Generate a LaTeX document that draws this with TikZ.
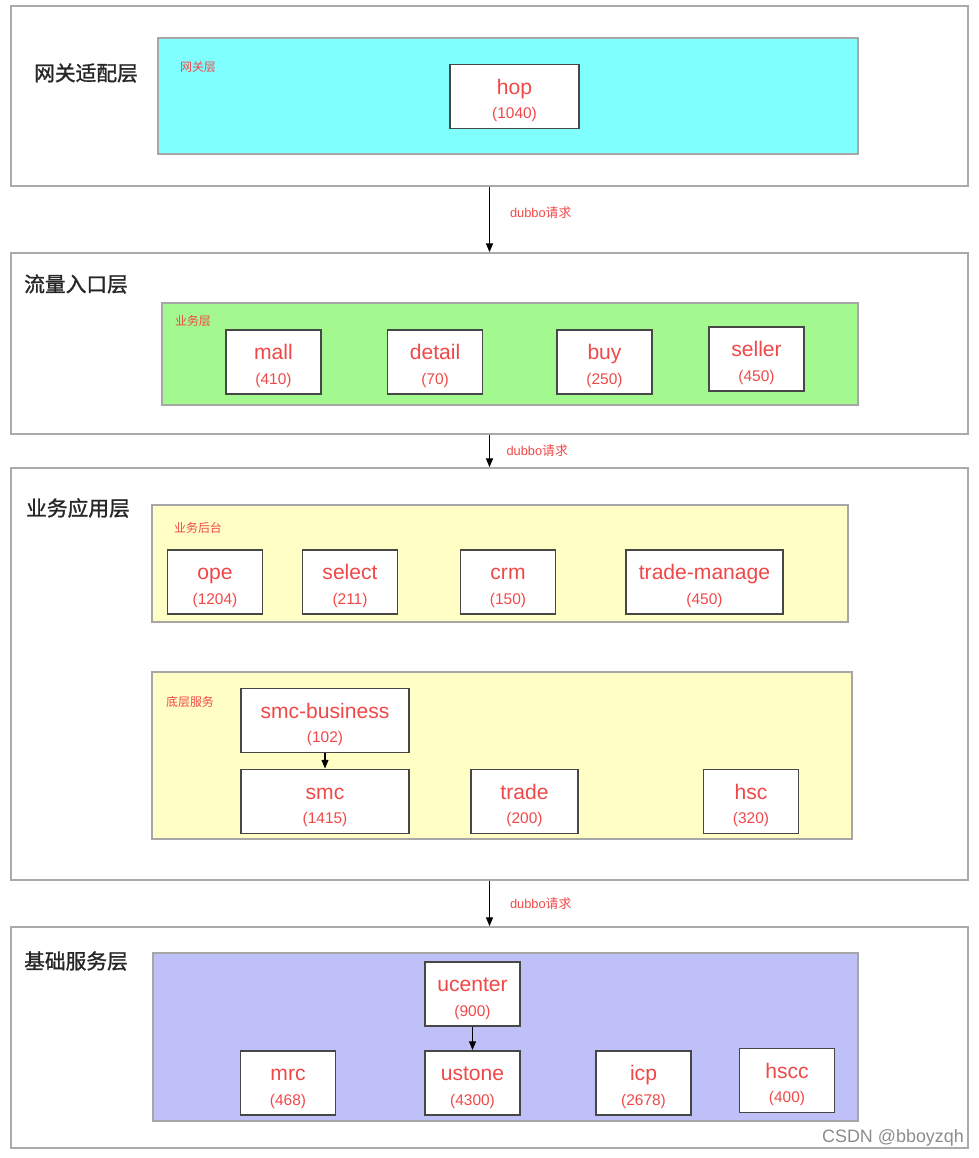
\documentclass[tikz,border=0pt]{standalone}
\usepackage{fontspec}
\setmainfont{Liberation Sans}
\newfontfamily\cjk{Noto Sans CJK SC}
\newfontfamily\cjktitle[FakeBold=1.2]{Noto Sans CJK SC}
\usetikzlibrary{arrows.meta}

\definecolor{svcred}{RGB}{240,72,72}
\definecolor{layergray}{RGB}{170,170,170}
\definecolor{gwcyan}{RGB}{128,255,255}
\definecolor{bizgreen}{RGB}{163,249,143}
\definecolor{appyellow}{RGB}{255,255,197}
\definecolor{basepurple}{RGB}{192,192,248}

\newcommand{\svctext}[2]{{\fontsize{12}{14}\selectfont\rule{0pt}{13pt}#1}\\[2pt]{\fontsize{8.8}{11}\selectfont (#2)}}

\tikzset{
  layer/.style={draw=layergray, line width=1pt, minimum width=19.14cm, inner sep=0},
  panel/.style={draw=black!35, line width=0.6pt},
  layertitle/.style={font=\cjktitle\fontsize{11.8}{13}\selectfont, text=black!85},
  paneltitle/.style={font=\cjk\fontsize{6.8}{8}\selectfont, text=svcred},
  svc/.style={draw=black!72, line width=1.1pt, fill=white, text=svcred, align=center,
    minimum width=1.9cm, minimum height=1.28cm, inner sep=0},
  req/.style={-{Triangle[length=5pt,width=4pt]}, line width=0.7pt},
  reqlabel/.style={font=\fontsize{7.3}{9}\selectfont, text=svcred}
}

\begin{document}
\begin{tikzpicture}[x=0.02cm, y=-0.02cm]

    \useasboundingbox (0,0) rectangle (978,1158);

    % Gateway layer
    \node[layer, minimum height=3.6cm] (gw) at (489.5,96) {};
    \node[layertitle] (gwtitle) at (86,73) {网关适配层};
    \draw[panel, fill=gwcyan] (158,38) rectangle (858,154);
    \node[paneltitle] (gwpanel) at (198,67) {网关层};
    \node[svc, minimum width=2.58cm] (hop) at (514.5,96.5) {\svctext{hop}{1040}};

    % Traffic entry layer
    \node[layer, minimum height=3.62cm] (entry) at (489.5,343.5) {};
    \node[layertitle] (entrytitle) at (76,284) {流量入口层};
    \draw[panel, fill=bizgreen] (162,303) rectangle (858,405);
    \node[paneltitle] (bizpanel) at (193,321) {业务层};
    \node[svc] (mall) at (273.5,362) {\svctext{mall}{410}};
    \node[svc] (detail) at (435,362) {\svctext{detail}{70}};
    \node[svc] (buy) at (604.5,362) {\svctext{buy}{250}};
    \node[svc] (seller) at (756.5,359) {\svctext{seller}{450}};

    % Business application layer
    \node[layer, minimum height=8.24cm] (app) at (489.5,674) {};
    \node[layertitle] (apptitle) at (78,508) {业务应用层};
    \draw[panel, fill=appyellow] (152,505) rectangle (848,622);
    \node[paneltitle] (backpanel) at (198,528) {业务后台};
    \node[svc] (ope) at (215,582) {\svctext{ope}{1204}};
    \node[svc] (select) at (350,582) {\svctext{select}{211}};
    \node[svc] (crm) at (508,582) {\svctext{crm}{150}};
    \node[svc, minimum width=3.14cm] (trademanage) at (704.5,582) {\svctext{trade-manage}{450}};
    \draw[panel, fill=appyellow] (152,672) rectangle (852,839);
    \node[paneltitle] (lowpanel) at (190,702) {底层服务};
    \node[svc, minimum width=3.36cm] (smcbiz) at (325,720.5) {\svctext{smc-business}{102}};
    \node[svc, minimum width=3.36cm] (smc) at (325,801.5) {\svctext{smc}{1415}};
    \node[svc, minimum width=2.14cm] (trade) at (524.5,801.5) {\svctext{trade}{200}};
    \node[svc] (hsc) at (751,801.5) {\svctext{hsc}{320}};
    \draw[req] (smcbiz) -- (smc);

    % Basic service layer
    \node[layer, minimum height=4.42cm] (base) at (489.5,1037.5) {};
    \node[layertitle] (basetitle) at (76,961) {基础服务层};
    \draw[panel, fill=basepurple] (153,953) rectangle (858,1121);
    \node[svc] (ucenter) at (472.5,994) {\svctext{ucenter}{900}};
    \node[svc] (ustone) at (472.5,1083) {\svctext{ustone}{4300}};
    \node[svc] (mrc) at (288,1083) {\svctext{mrc}{468}};
    \node[svc] (icp) at (643.5,1083) {\svctext{icp}{2678}};
    \node[svc] (hscc) at (787,1080.5) {\svctext{hscc}{400}};
    \draw[req] (ucenter) -- (ustone);

    % dubbo calls between layers
    \draw[req] (gw.south) -- (entry.north) node[reqlabel, pos=0.4, right=8pt] (call1) {dubbo{\cjk 请求}};
    \draw[req] (entry.south) -- (app.north) node[reqlabel, midway, right=6pt] (call2) {dubbo{\cjk 请求}};
    \draw[req] (app.south) -- (base.north) node[reqlabel, midway, right=8pt] (call3) {dubbo{\cjk 请求}};

    \node[font=\fontsize{10.2}{12}\selectfont, text=black!45] (mark) at (893,1138) {CSDN @bboyzqh};

\end{tikzpicture}
\end{document}
